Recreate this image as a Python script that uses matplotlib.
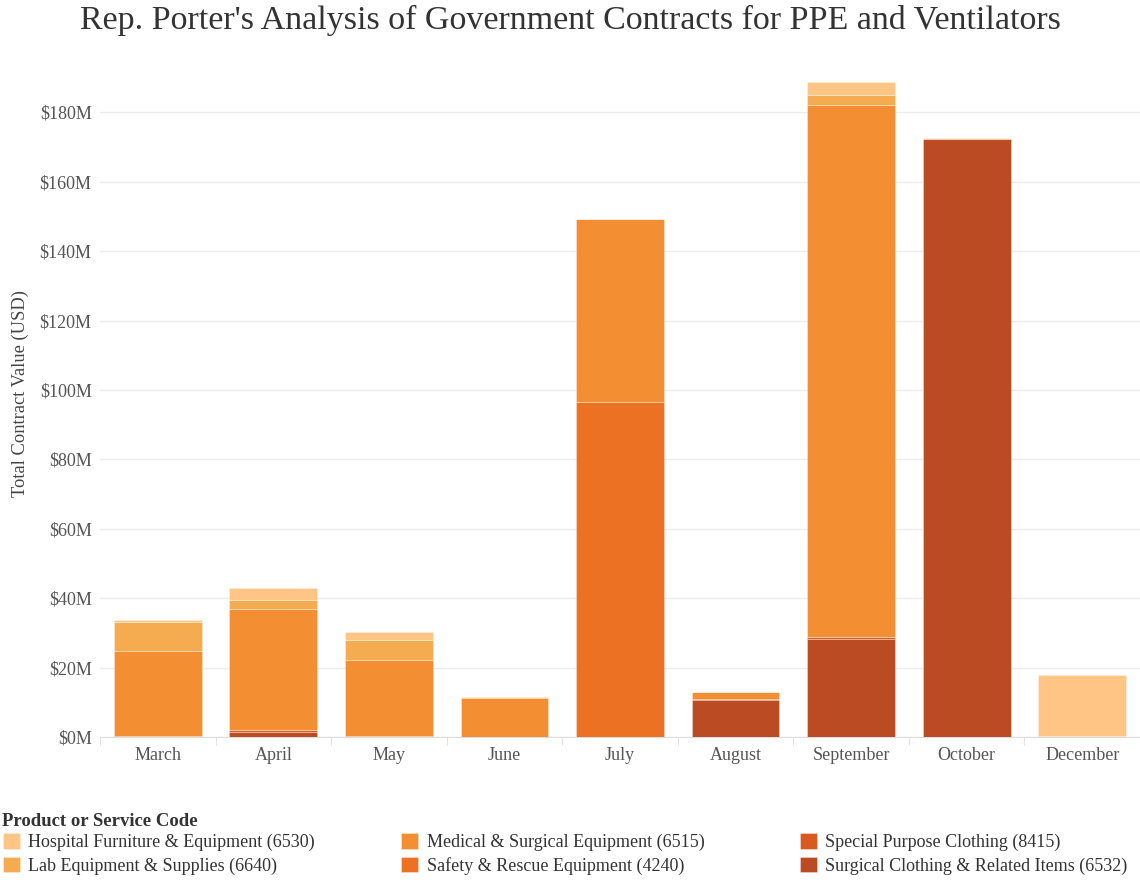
import numpy as np
import matplotlib.pyplot as plt

plt.rcParams['font.family'] = ['Liberation Serif', 'DejaVu Serif']

months = ['March', 'April', 'May', 'June', 'July', 'August', 'September', 'October', 'December']

# values in $M, stacked bottom -> top
surgical_6532 = [0.0, 1.4, 0.0, 0.0, 0.0, 10.6, 28.3, 172.3, 0.0]
special_8415 = [0.4, 0.6, 0.3, 0.1, 0.0, 0.3, 0.5, 0.0, 0.0]
safety_4240 = [0.0, 0.0, 0.0, 0.0, 96.6, 0.0, 0.0, 0.0, 0.0]
medical_6515 = [24.5, 34.8, 21.9, 11.2, 52.8, 2.0, 153.3, 0.4, 0.3]
lab_6640 = [8.1, 2.7, 5.8, 0.1, 0.0, 0.0, 3.0, 0.0, 0.0]
hospital_6530 = [0.7, 3.4, 2.4, 0.0, 0.0, 0.1, 3.7, 0.0, 17.6]

series = [
    ('Surgical Clothing & Related Items (6532)', surgical_6532, '#ba4b22'),
    ('Special Purpose Clothing (8415)', special_8415, '#d95a20'),
    ('Safety & Rescue Equipment (4240)', safety_4240, '#ec7122'),
    ('Medical & Surgical Equipment (6515)', medical_6515, '#f38f32'),
    ('Lab Equipment & Supplies (6640)', lab_6640, '#f5ab50'),
    ('Hospital Furniture & Equipment (6530)', hospital_6530, '#fec585'),
]

fig = plt.figure(figsize=(11.4, 8.82), dpi=100)
ax = fig.add_axes([0.0877, 0.1644, 0.9123, 0.779])

x = np.arange(len(months))
bottom = np.zeros(len(months))
handles = {}
for name, vals, col in series:
    vals = np.array(vals)
    b = ax.bar(x, vals, 0.76, bottom=bottom, color=col, edgecolor=(1, 1, 1, 0.45),
               linewidth=0.5, zorder=3)
    handles[name] = b
    bottom += vals

ax.set_xlim(-0.5, len(months) - 0.5)
ax.set_ylim(0, 198)
ax.set_yticks(np.arange(0, 181, 20))
ax.set_yticklabels(['$%dM' % v for v in range(0, 181, 20)])
ax.set_xticks(x)
ax.set_xticklabels(months)
ax.set_xticks(np.arange(-0.5, len(months), 1), minor=True)
ax.tick_params(axis='x', which='major', length=0, pad=7, labelsize=13, colors='#555555')
ax.tick_params(axis='x', which='minor', length=6, color='#dddddd')
ax.tick_params(axis='y', length=0, pad=6, labelsize=13, colors='#555555')
ax.grid(axis='y', color='#ececec', linewidth=1, zorder=0)
for s in ['top', 'right', 'left']:
    ax.spines[s].set_visible(False)
ax.spines['bottom'].set_color('#dddddd')

ax.set_ylabel('Total Contract Value (USD)', fontsize=13.3, color='#444444', labelpad=8)
fig.text(0.5, 0.977, "Rep. Porter's Analysis of Government Contracts for PPE and Ventilators",
         ha='center', va='center', fontsize=24.5, color='#333333')

fig.text(0.002, 0.069, 'Product or Service Code', fontsize=13.5, fontweight='bold',
         color='#333333', va='center')

legend_cols = [
    ['Hospital Furniture & Equipment (6530)', 'Lab Equipment & Supplies (6640)'],
    ['Medical & Surgical Equipment (6515)', 'Safety & Rescue Equipment (4240)'],
    ['Special Purpose Clothing (8415)', 'Surgical Clothing & Related Items (6532)'],
]
for i, names in enumerate(legend_cols):
    fig.legend([handles[n] for n in names], names, loc='upper left',
               bbox_to_anchor=(-0.004 + i * 0.3497, 0.0635), frameon=False,
               fontsize=13, handlelength=0.95, handleheight=0.95, handletextpad=0.45,
               labelspacing=0.3, borderaxespad=0, labelcolor='#333333')

fig.savefig('out.png', dpi=100)
